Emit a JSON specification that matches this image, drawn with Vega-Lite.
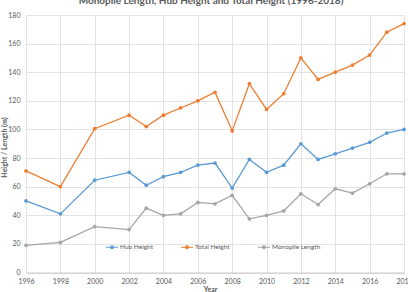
{
  "$schema": "https://vega.github.io/schema/vega-lite/v6.json",
  "width": 378,
  "height": 257.5,
  "autosize": "none",
  "padding": {"left": 26, "top": 15, "right": 4, "bottom": 19.5},
  "background": "white",
  "title": {
    "text": "Monopile Length, Hub Height and Total Height (1996-2018)",
    "font": "Lato",
    "fontSize": 10,
    "fontWeight": "bold",
    "color": "#595959",
    "anchor": "middle",
    "baseline": "alphabetic",
    "offset": -3,
    "dx": -4
  },
  "data": {
    "values": [
      {"year": 1996, "series": "Hub Height", "value": 50},
      {"year": 1998, "series": "Hub Height", "value": 41},
      {"year": 2000, "series": "Hub Height", "value": 64.5},
      {"year": 2002, "series": "Hub Height", "value": 70},
      {"year": 2003, "series": "Hub Height", "value": 61},
      {"year": 2004, "series": "Hub Height", "value": 67},
      {"year": 2005, "series": "Hub Height", "value": 70},
      {"year": 2006, "series": "Hub Height", "value": 75},
      {"year": 2007, "series": "Hub Height", "value": 76.5},
      {"year": 2008, "series": "Hub Height", "value": 59},
      {"year": 2009, "series": "Hub Height", "value": 79},
      {"year": 2010, "series": "Hub Height", "value": 70},
      {"year": 2011, "series": "Hub Height", "value": 75},
      {"year": 2012, "series": "Hub Height", "value": 90},
      {"year": 2013, "series": "Hub Height", "value": 79},
      {"year": 2014, "series": "Hub Height", "value": 83},
      {"year": 2015, "series": "Hub Height", "value": 87},
      {"year": 2016, "series": "Hub Height", "value": 91},
      {"year": 2017, "series": "Hub Height", "value": 97.5},
      {"year": 2018, "series": "Hub Height", "value": 100},
      {"year": 1996, "series": "Total Height", "value": 71},
      {"year": 1998, "series": "Total Height", "value": 60},
      {"year": 2000, "series": "Total Height", "value": 100.5},
      {"year": 2002, "series": "Total Height", "value": 110},
      {"year": 2003, "series": "Total Height", "value": 102},
      {"year": 2004, "series": "Total Height", "value": 110},
      {"year": 2005, "series": "Total Height", "value": 115},
      {"year": 2006, "series": "Total Height", "value": 120},
      {"year": 2007, "series": "Total Height", "value": 126},
      {"year": 2008, "series": "Total Height", "value": 99},
      {"year": 2009, "series": "Total Height", "value": 132},
      {"year": 2010, "series": "Total Height", "value": 114},
      {"year": 2011, "series": "Total Height", "value": 125},
      {"year": 2012, "series": "Total Height", "value": 150},
      {"year": 2013, "series": "Total Height", "value": 135},
      {"year": 2014, "series": "Total Height", "value": 140},
      {"year": 2015, "series": "Total Height", "value": 145},
      {"year": 2016, "series": "Total Height", "value": 152},
      {"year": 2017, "series": "Total Height", "value": 168},
      {"year": 2018, "series": "Total Height", "value": 174},
      {"year": 1996, "series": "Monopile Length", "value": 19},
      {"year": 1998, "series": "Monopile Length", "value": 21},
      {"year": 2000, "series": "Monopile Length", "value": 32},
      {"year": 2002, "series": "Monopile Length", "value": 30},
      {"year": 2003, "series": "Monopile Length", "value": 45},
      {"year": 2004, "series": "Monopile Length", "value": 40},
      {"year": 2005, "series": "Monopile Length", "value": 41},
      {"year": 2006, "series": "Monopile Length", "value": 49},
      {"year": 2007, "series": "Monopile Length", "value": 48},
      {"year": 2008, "series": "Monopile Length", "value": 54},
      {"year": 2009, "series": "Monopile Length", "value": 37.5},
      {"year": 2010, "series": "Monopile Length", "value": 40},
      {"year": 2011, "series": "Monopile Length", "value": 43},
      {"year": 2012, "series": "Monopile Length", "value": 55},
      {"year": 2013, "series": "Monopile Length", "value": 47.5},
      {"year": 2014, "series": "Monopile Length", "value": 58.5},
      {"year": 2015, "series": "Monopile Length", "value": 55.5},
      {"year": 2016, "series": "Monopile Length", "value": 62},
      {"year": 2017, "series": "Monopile Length", "value": 69},
      {"year": 2018, "series": "Monopile Length", "value": 69}
    ]
  },
  "encoding": {
    "x": {
      "field": "year",
      "type": "quantitative",
      "scale": {"domain": [1996, 2018], "nice": false, "zero": false},
      "axis": {
        "title": "Year",
        "values": [1996, 1998, 2000, 2002, 2004, 2006, 2008, 2010, 2012, 2014, 2016, 2018],
        "format": "d",
        "ticks": false,
        "labelFlush": false,
        "labelOverlap": false,
        "labelBound": false,
        "labelPadding": 5,
        "domainColor": "#BFBFBF",
        "domainWidth": 0.8,
        "titleX": 184,
        "titleY": 16.5,
        "titleBaseline": "middle"
      }
    },
    "y": {
      "field": "value",
      "type": "quantitative",
      "scale": {"domain": [0, 180], "nice": false},
      "axis": {
        "title": "Height / Length (m)",
        "values": [0, 20, 40, 60, 80, 100, 120, 140, 160, 180],
        "ticks": false,
        "domain": false,
        "labelPadding": 6,
        "titleX": -21.5,
        "titleY": 132,
        "titleBaseline": "middle",
        "titleAngle": 270
      }
    },
    "color": {
      "field": "series",
      "type": "nominal",
      "scale": {
        "domain": ["Hub Height", "Total Height", "Monopile Length"],
        "range": ["#5B9BD5", "#ED7D31", "#A5A5A5"]
      },
      "legend": {
        "title": null,
        "orient": "none",
        "direction": "horizontal",
        "legendX": 80,
        "legendY": 226,
        "symbolType": "M-1,-0.09L1,-0.09L1,0.09L-1,0.09Z M0.33,0A0.33,0.33 0 1,1 -0.33,0A0.33,0.33 0 1,1 0.33,0Z",
        "symbolSize": 144,
        "symbolStrokeWidth": 0,
        "labelOffset": 2,
        "columnPadding": 28,
        "labelFont": "Lato",
        "labelFontSize": 6.5,
        "labelColor": "#595959"
      }
    }
  },
  "layer": [
    {"mark": {"type": "line", "strokeWidth": 1.3}},
    {"mark": {"type": "point", "filled": true, "opacity": 1, "size": 14}}
  ],
  "config": {
    "view": {"stroke": null},
    "axis": {
      "labelFont": "Lato",
      "labelFontSize": 7,
      "labelColor": "#595959",
      "titleFont": "Lato",
      "titleFontSize": 7,
      "titleFontWeight": "bold",
      "titleColor": "#595959",
      "gridColor": "#D9D9D9",
      "gridWidth": 0.75
    }
  }
}
